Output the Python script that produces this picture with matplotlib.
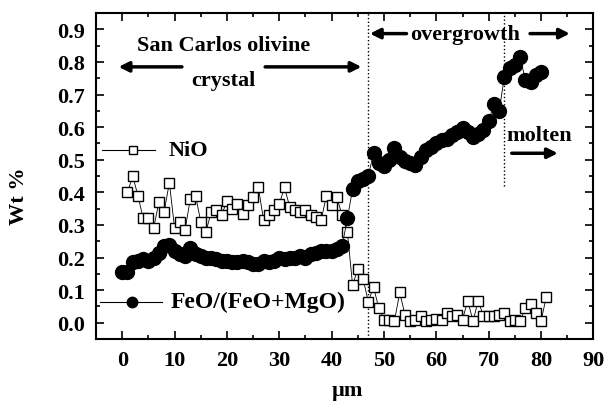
import numpy as np
import matplotlib.pyplot as plt

plt.rcParams['font.family'] = ['Liberation Serif', 'DejaVu Serif']
plt.rcParams['font.weight'] = 'bold'

# Perfil FeO/(FeO+MgO) (circulos), posicion en micras
feo_x = np.arange(0, 81)
feo_y = [0.157, 0.155, 0.185, 0.19, 0.195, 0.19, 0.20, 0.215, 0.235, 0.24,
         0.22, 0.21, 0.205, 0.23, 0.21, 0.205, 0.20, 0.20, 0.195, 0.19,
         0.19, 0.185, 0.185, 0.19, 0.185, 0.18, 0.18, 0.19, 0.185, 0.19,
         0.20, 0.195, 0.20, 0.20, 0.205, 0.20, 0.21, 0.215, 0.22, 0.22,
         0.22, 0.225, 0.235, 0.32, 0.41, 0.435, 0.44, 0.45, 0.52, 0.49,
         0.48, 0.50, 0.535, 0.51, 0.495, 0.49, 0.485, 0.51, 0.53, 0.54,
         0.55, 0.56, 0.565, 0.575, 0.585, 0.597, 0.585, 0.57, 0.58, 0.59,
         0.62, 0.67, 0.65, 0.755, 0.78, 0.79, 0.815, 0.745, 0.74, 0.76,
         0.77]

# Perfil NiO (cuadros)
nio_x = np.arange(1, 82)
nio_y = [0.40, 0.45, 0.39, 0.32, 0.32, 0.29, 0.37, 0.34, 0.43, 0.29,
         0.31, 0.285, 0.38, 0.39, 0.31, 0.28, 0.34, 0.345, 0.33, 0.375,
         0.35, 0.365, 0.335, 0.36, 0.385, 0.415, 0.315, 0.33, 0.345, 0.365,
         0.415, 0.355, 0.345, 0.34, 0.345, 0.33, 0.325, 0.315, 0.39, 0.36,
         0.385, 0.33, 0.28, 0.115, 0.165, 0.135, 0.065, 0.11, 0.045, 0.01,
         0.01, 0.005, 0.093, 0.025, 0.005, 0.01, 0.02, 0.005, 0.01, 0.012,
         0.01, 0.03, 0.02, 0.025, 0.01, 0.068, 0.005, 0.068, 0.02, 0.02,
         0.02, 0.025, 0.03, 0.005, 0.01, 0.005, 0.045, 0.058, 0.03, 0.005,
         0.08]

# Limites de zonas (micras)
borde_cristal = 47
borde_fundido = 73

fig = plt.figure(figsize=(6.08, 4.02), dpi=100)
ax = fig.add_axes([0.158, 0.154, 0.818, 0.811])

ax.plot(nio_x, nio_y, '-', color='black', lw=0.6, marker='s', ms=7.5,
        mfc='white', mec='black', mew=1.0, zorder=3)
ax.plot(feo_x, feo_y, '-', color='black', lw=0.6, marker='o', ms=10,
        mfc='black', mec='black', zorder=4)

# Lineas punteadas de las zonas
ax.plot([borde_cristal, borde_cristal], [-0.05, 0.95], ':', color='black', lw=1)
ax.plot([borde_fundido, borde_fundido], [0.42, 0.95], ':', color='black', lw=1)

# Leyendas dentro del grafico
ax.plot([-3.8, 6.3], [0.53, 0.53], '-', color='black', lw=0.8)
ax.plot([2.0], [0.53], 's', ms=6, mfc='white', mec='black', mew=1.0)
ax.text(8.8, 0.53, 'NiO', fontsize=16, fontweight='bold', va='center')
ax.plot([-4.2, 7.5], [0.065, 0.065], '-', color='black', lw=0.8)
ax.plot([1.85], [0.065], 'o', ms=7.5, color='black')
ax.text(9.2, 0.065, 'FeO/(FeO+MgO)', fontsize=17, fontweight='bold', va='center')

# Anotaciones de zonas con flechas
flecha = dict(arrowstyle='-|>', color='black', lw=2.5, mutation_scale=15,
              shrinkA=0, shrinkB=0)
ax.text(19.3, 0.851, 'San Carlos olivine', fontsize=16, fontweight='bold',
        ha='center', va='center')
ax.text(19.3, 0.744, 'crystal', fontsize=16, fontweight='bold',
        ha='center', va='center')
ax.annotate('', xy=(-0.7, 0.785), xytext=(11.4, 0.785), arrowprops=flecha)
ax.annotate('', xy=(45.7, 0.785), xytext=(27.3, 0.785), arrowprops=flecha)
ax.text(65.4, 0.887, 'overgrowth', fontsize=16, fontweight='bold',
        ha='center', va='center')
ax.annotate('', xy=(47.3, 0.887), xytext=(54.3, 0.887), arrowprops=flecha)
ax.annotate('', xy=(85.5, 0.887), xytext=(77.9, 0.887), arrowprops=flecha)
ax.text(73.4, 0.575, 'molten', fontsize=16, fontweight='bold',
        ha='left', va='center')
ax.annotate('', xy=(83.2, 0.52), xytext=(74.4, 0.52), arrowprops=flecha)

ax.set_xlim(-5, 90)
ax.set_ylim(-0.05, 0.95)
ax.set_xticks(np.arange(0, 91, 10))
ax.set_xticks(np.arange(-5, 91, 5), minor=True)
ax.set_yticks(np.arange(0, 0.91, 0.1))
ax.set_yticks(np.arange(-0.05, 0.951, 0.05), minor=True)
ax.set_yticklabels(['%.1f' % v for v in np.arange(0, 0.91, 0.1)])
ax.tick_params(which='both', direction='in', top=True, right=True,
               labelsize=16, width=1.2)
ax.tick_params(axis='x', pad=8)
ax.tick_params(axis='y', pad=8)
ax.tick_params(which='major', length=6)
ax.tick_params(which='minor', length=3)
for lab in ax.get_xticklabels() + ax.get_yticklabels():
    lab.set_fontweight('bold')
for s in ax.spines.values():
    s.set_linewidth(1.5)

ax.set_xlabel('µm', fontsize=16, fontweight='bold')
ax.xaxis.set_label_coords(0.505, -0.125)
ax.set_ylabel('Wt %', fontsize=16, fontweight='bold')
ax.yaxis.set_label_coords(-0.135, 0.44)

fig.savefig('out.png', dpi=100)
